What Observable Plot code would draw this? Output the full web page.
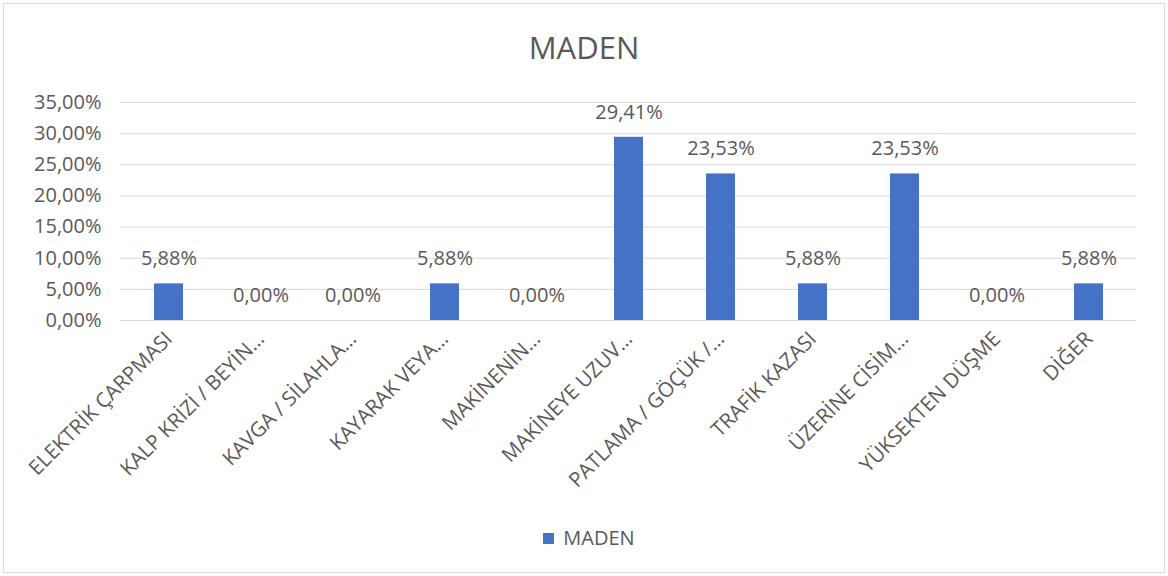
<!DOCTYPE html>
<html><head><meta charset="utf-8">
<script src="https://cdn.jsdelivr.net/npm/d3@7"></script>
<script src="https://cdn.jsdelivr.net/npm/@observablehq/plot@0.6"></script>
<style>
body{margin:0;background:#fff;}
#wrap{position:relative;width:1160px;height:568px;margin:3px 0 0 3px;border:1px solid #d9d9d9;font-family:"Open Sans",sans-serif;color:#595959;box-sizing:content-box;overflow:hidden;}
#title{height:71px;box-sizing:border-box;padding-top:25px;font-size:31px;line-height:36px;text-align:center;}
#legend{height:73px;box-sizing:border-box;padding-top:31px;font-size:20px;line-height:24px;text-align:center;padding-left:10px;}
#legend .sw{display:inline-block;width:11px;height:11px;background:#4472C4;margin-right:9px;vertical-align:1px;}
</style></head>
<body>
<div id="wrap">
<div id="title">MADEN</div>
<div id="chart"></div>
<div id="legend"><span class="sw"></span>MADEN</div>
</div>
<script>
const categories = ["ELEKTRİK ÇARPMASI","KALP KRİZİ / BEYİN…","KAVGA / SİLAHLA…","KAYARAK VEYA…","MAKİNENİN…","MAKİNEYE UZUV…","PATLAMA / GÖÇÜK /…","TRAFİK KAZASI","ÜZERİNE CİSİM…","YÜKSEKTEN DÜŞME","DİĞER"];
const values = [0.0588,0,0,0.0588,0,0.2941,0.2353,0.0588,0.2353,0,0.0588];
const yTicks = [0,0.05,0.10,0.15,0.20,0.25,0.30,0.35];
const seriesName = "MADEN";

const data = categories.map((c,i)=>({cat:c,val:values[i]}));
const fmt = d => (d*100).toFixed(2).replace(".", ",") + "%";

const chart = Plot.plot({
  width:1160, height:420,
  marginLeft:116, marginRight:28, marginTop:27, marginBottom:175,
  style:{fontFamily:"'Open Sans',sans-serif", color:"#595959", background:"transparent"},
  x:{domain:categories, paddingInner:0.686, paddingOuter:0.343, label:null},
  y:{domain:[0,0.35], label:null},
  marks:[
    Plot.gridY(yTicks,{stroke:"#d9d9d9", strokeOpacity:1}),
    Plot.barY(data,{x:"cat", y:"val", fill:"#4472C4"}),
    Plot.text(data,{x:"cat", y:"val", text:d=>fmt(d.val), dy:-25, fontSize:20, fill:"#595959"}),
    Plot.axisY({ticks:yTicks, tickFormat:fmt, tickSize:0, tickPadding:19, fontSize:20, label:null}),
    Plot.axisX({tickRotate:-45, tickSize:0, tickPadding:15, fontSize:20.5, label:null})
  ]
});
document.getElementById("chart").appendChild(chart);
</script>
</body></html>
